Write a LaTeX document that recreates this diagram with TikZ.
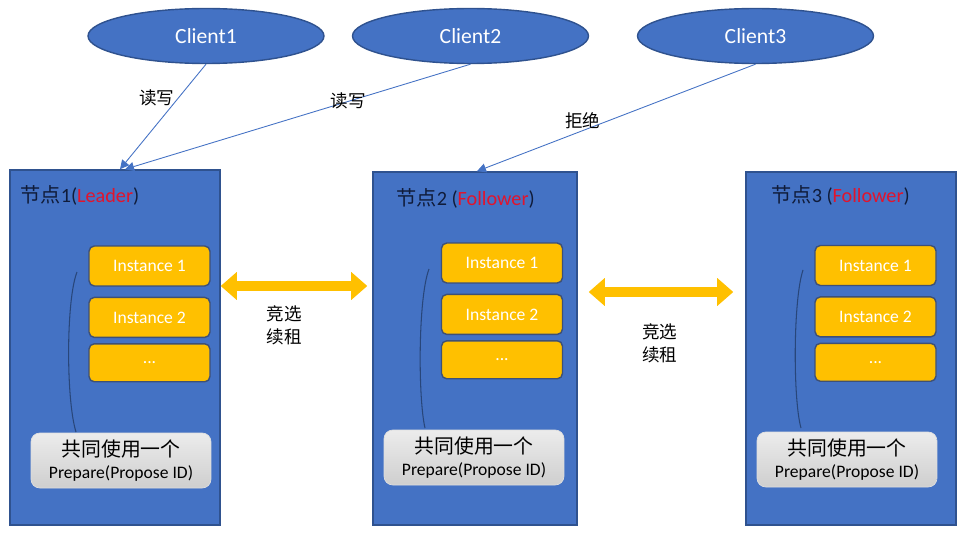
\documentclass[tikz,border=0pt]{standalone}
\usepackage{fontspec}
\setmainfont{Carlito}
\newfontfamily\cjk{Noto Sans CJK SC}
\usepackage{tikz}
\usetikzlibrary{shapes.geometric, arrows.meta, positioning}
\definecolor{nodeblue}{RGB}{68,114,196}
\definecolor{nodeedge}{RGB}{47,82,143}
\definecolor{instyellow}{RGB}{255,192,0}
\definecolor{instedge}{RGB}{62,80,118}
\definecolor{titlenavy}{RGB}{16,28,58}
\definecolor{rolered}{RGB}{225,20,45}

\begin{document}
\begin{tikzpicture}[x=0.02cm, y=-0.02cm,
    client/.style={ellipse, draw=nodeedge, fill=nodeblue, line width=0.8pt, minimum width=4.72cm, minimum height=1.1cm, inner sep=0pt, text=white, font=\fontsize{12.3}{14}\selectfont},
    server/.style={rectangle, draw=nodeedge, fill=nodeblue, line width=0.9pt, minimum width=4.2cm, minimum height=7.06cm},
    inst/.style={rectangle, rounded corners=3pt, draw=instedge, fill=instyellow, line width=0.8pt, minimum width=2.42cm, minimum height=0.8cm, text=white, font=\fontsize{10}{12}\selectfont},
    shared/.style={rectangle, rounded corners=5pt, draw=gray!25, top color=gray!15, bottom color=gray!38, minimum width=3.6cm, minimum height=1.1cm, align=center, text=black, font=\fontsize{10}{12.5}\selectfont},
    title/.style={anchor=west, inner sep=0pt, text=titlenavy, font=\fontsize{11.5}{13}\selectfont},
    link/.style={-{Triangle[length=0.18cm, width=0.18cm]}, draw=nodeblue, line width=0.5pt},
    elect/.style={{Triangle[length=0.32cm, width=0.56cm, line width=0pt]}-{Triangle[length=0.32cm, width=0.56cm, line width=0pt]}, draw=instyellow, line width=0.212cm},
    note/.style={font=\fontsize{10}{13}\selectfont\cjk, text=black, align=center, inner sep=1pt},
    brace/.style={draw=nodeedge!85!black, line width=0.6pt}
]
    \useasboundingbox (0,0) rectangle (963,537);

    % Clients
    \node[client] (c1) at (206,36) {Client1};
    \node[client] (c2) at (470.5,36) {Client2};
    \node[client] (c3) at (755.5,36) {Client3};

    % Servers
    \node[server, minimum height=7.1cm] (n1) at (115,347.5) {};
    \node[server, minimum width=4.08cm] (n2) at (475,348.5) {};
    \node[server] (n3) at (851,348.5) {};
    \node[title] (t1) at (20,195) {{\cjk 节点}1(\textcolor{rolered}{Leader})};
    \node[title] (t2) at (396,198) {{\cjk 节点}2 (\textcolor{rolered}{Follower})};
    \node[title] (t3) at (771,195) {{\cjk 节点}3 (\textcolor{rolered}{Follower})};

    % Instances
    \node[inst] (a1) at (149.5,266) {Instance 1};
    \node[inst, below=0.2cm of a1] (a2) {Instance 2};
    \node[inst, below=0.1cm of a2, minimum height=0.76cm] (a3) {...};
    \node[inst] (b1) at (502,263) {Instance 1};
    \node[inst, below=0.2cm of b1] (b2) {Instance 2};
    \node[inst, below=0.1cm of b2, minimum height=0.76cm] (b3) {...};
    \node[inst] (d1) at (875.5,265.5) {Instance 1};
    \node[inst, below=0.2cm of d1] (d2) {Instance 2};
    \node[inst, below=0.1cm of d2, minimum height=0.76cm] (d3) {...};

    % Shared prepare
    \node[shared] (s1) at (121,460.5) {{\cjk\fontsize{11.3}{13}\selectfont 共同使用一个}\\Prepare(Propose ID)};
    \node[shared] (s2) at (474,457.5) {{\cjk\fontsize{11.3}{13}\selectfont 共同使用一个}\\Prepare(Propose ID)};
    \node[shared] (s3) at (847,459.5) {{\cjk\fontsize{11.3}{13}\selectfont 共同使用一个}\\Prepare(Propose ID)};

    % Brackets
    \draw[brace] (77,272) .. controls (66,300) and (66,400) .. (76,432);
    \draw[brace] (429,269) .. controls (418,298) and (418,398) .. (425,428);
    \draw[brace] (803,270) .. controls (793,300) and (793,400) .. (801,428);

    % Client requests
    \draw[link] (c1.south) -- ([xshift=0.1cm]n1.north) node[note, pos=0.32, left=1pt] {读写};
    \draw[link] (c2.south) -- ([xshift=0.2cm]n1.north) node[note, pos=0.353] {读写};
    \draw[link] (c3.south) -- ([xshift=0.04cm]n2.north) node[note, pos=0.62, above=0pt] {拒绝};

    % Election
    \coordinate (e1) at (0,286);
    \coordinate (e2) at (0,292);
    \draw[elect, shorten >=0.1cm] (n1.east |- e1) -- (n2.west |- e1) node[note, pos=0.42, below=0.26cm] {竞选\\续租};
    \draw[elect, shorten <=0.22cm, shorten >=0.24cm] (n2.east |- e2) -- (n3.west |- e2) node[note, pos=0.49, below=0.5cm] {竞选\\续租};
\end{tikzpicture}
\end{document}
